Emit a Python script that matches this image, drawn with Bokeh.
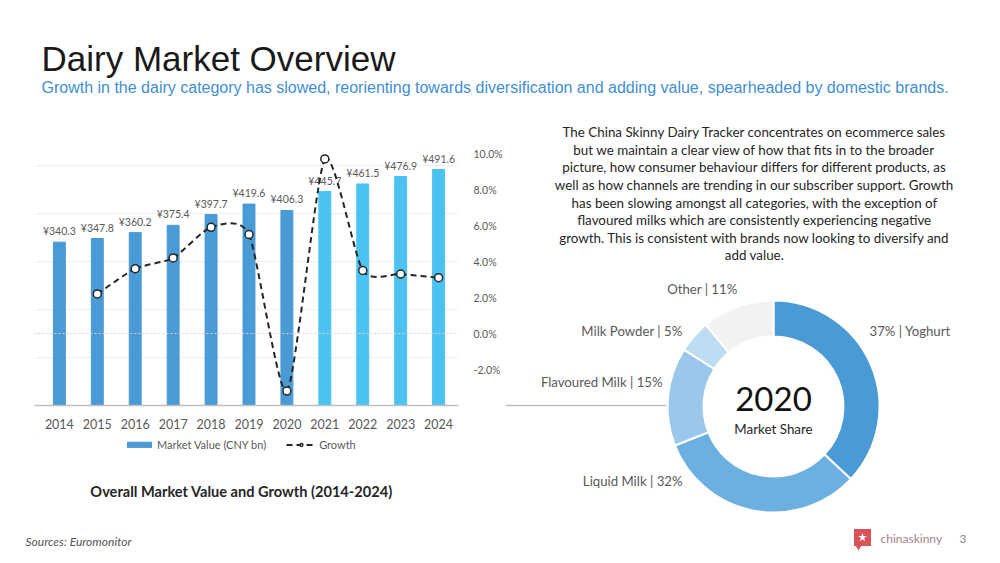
import numpy as np
from bokeh.plotting import figure
from bokeh.layouts import column, row
from bokeh.models import (Range1d, LinearAxis, FixedTicker, PrintfTickFormatter, Grid, Span,
                          Legend, LegendItem, ColumnDataSource)
from bokeh.core.properties import value
from bokeh.embed import file_html
from bokeh.resources import INLINE

# ---------------- data ----------------
years = [2014, 2015, 2016, 2017, 2018, 2019, 2020, 2021, 2022, 2023, 2024]
market_value = [340.3, 347.8, 360.2, 375.4, 397.7, 419.6, 406.3, 445.7, 461.5, 476.9, 491.6]
value_labels = ["¥340.3", "¥347.8", "¥360.2", "¥375.4", "¥397.7", "¥419.6",
                "¥406.3", "¥445.7", "¥461.5", "¥476.9", "¥491.6"]
growth_years = [2015, 2016, 2017, 2018, 2019, 2020, 2021, 2022, 2023, 2024]
growth = [2.2, 3.6, 4.2, 5.9, 5.5, -3.2, 9.7, 3.5, 3.3, 3.1]
pct_ticks = [-2, 0, 2, 4, 6, 8, 10]
value_grid = [100, 200, 300, 400, 500]
last_actual_year = 2020

share_categories = ["Yoghurt", "Liquid Milk", "Flavoured Milk", "Milk Powder", "Other"]
share_values = [37, 32, 15, 5, 11]
share_labels = ["37% | Yoghurt", "Liquid Milk | 32%", "Flavoured Milk | 15%",
                "Milk Powder | 5%", "Other | 11%"]
share_colors = ["#4a9ad5", "#6cafe1", "#9bc7ea", "#bcdcf2", "#f2f2f2"]

title_text = "Dairy Market Overview"
subtitle_text = ("Growth in the dairy category has slowed, reorienting towards diversification "
                 "and adding value, spearheaded by domestic brands.")
paragraph_lines = [
    "The China Skinny Dairy Tracker concentrates on ecommerce sales",
    "but we maintain a clear view of how that fits in to the broader",
    "picture, how consumer behaviour differs for different products, as",
    "well as how channels are trending in our subscriber support. Growth",
    "has been slowing amongst all categories, with the exception of",
    "flavoured milks which are consistently experiencing negative",
    "growth. This is consistent with brands now looking to diversify and",
    "add value.",
]
chart_caption = "Overall Market Value and Growth (2014-2024)"
sources_text = "Sources: Euromonitor"

F = value("Lato")
GRAY = "#595959"
DARK_BAR = "#4a9ad5"
LIGHT_BAR = "#4cc2f0"
LINE_COLOR = "#262626"
BASE_COLOR = "#bfbfbf"


def blank(w, h, x0, x1, y0, y1, **kw):
    opts = dict(min_border=0)
    opts.update(kw)
    p = figure(width=w, height=h, x_range=Range1d(x0, x1), y_range=Range1d(y0, y1),
               output_backend="svg", toolbar_location=None,
               x_axis_location=None, y_axis_location=None, **opts)
    p.outline_line_color = None
    p.xgrid.visible = False
    p.ygrid.visible = False
    p.background_fill_color = "white"
    p.border_fill_color = "white"
    return p

# ---------------- header (page pixels) ----------------
hdr = blank(1000, 113, 0, 1000, 113, 0)
hdr.text(x=[41], y=[58], text=[title_text], text_font=value("Liberation Sans"),
         text_font_size="35px", text_color="#1a1a1a", text_baseline="middle")
hdr.text(x=[41], y=[86.5], text=[subtitle_text], text_font=value("Liberation Sans"),
         text_font_size="16px", text_color="#3f8fd2", text_baseline="middle")

# ---------------- bar + growth chart ----------------
spacing = 38.1
x_start = 2014 - 25 / spacing
x_end = 2014 + 401 / spacing
bar = figure(width=505, height=320, x_range=Range1d(x_start, x_end), y_range=Range1d(0, 600),
             output_backend="svg", toolbar_location=None, y_axis_location=None,
             min_border_left=34, min_border_right=45, min_border_top=4, min_border_bottom=28)
bar.outline_line_color = None
bar.xgrid.visible = False
bar.ygrid.visible = False
bar.extra_y_ranges = {"pct": Range1d(-4, 12)}

bar.add_layout(Grid(dimension=1, ticker=FixedTicker(ticks=value_grid),
                    grid_line_color="#efefef", grid_line_width=1))
bar.add_layout(Span(location=0, dimension="width", y_range_name="pct",
                    line_color="#d4d4d4", line_dash="2 2", line_width=1))

colors = [DARK_BAR if y <= last_actual_year else LIGHT_BAR for y in years]
bsrc = ColumnDataSource(dict(x=years, top=market_value, color=colors, label=value_labels))
bar.vbar(x="x", top="top", width=12 / spacing, color="color", source=bsrc)
bar.text(x="x", y="top", text="label", source=bsrc, text_align="center", text_baseline="bottom",
         y_offset=-5, text_font=F, text_font_size="10.5px", text_color=GRAY)

# smoothed growth line (bezier segments through the data points)
gx = np.array(growth_years, float)
gy = np.array(growth, float)
n = len(gx)
k = 0.11
seg = dict(x0=[], y0=[], x1=[], y1=[], cx0=[], cy0=[], cx1=[], cy1=[])
for i in range(n - 1):
    a = i - 1 if i > 0 else i
    b = i + 2 if i + 2 < n else i + 1
    seg["x0"].append(gx[i]); seg["y0"].append(gy[i])
    seg["x1"].append(gx[i + 1]); seg["y1"].append(gy[i + 1])
    seg["cx0"].append(gx[i] + (gx[i + 1] - gx[a]) * k)
    seg["cy0"].append(gy[i] + (gy[i + 1] - gy[a]) * k)
    seg["cx1"].append(gx[i + 1] - (gx[b] - gx[i]) * k)
    seg["cy1"].append(gy[i + 1] - (gy[b] - gy[i]) * k)
bar.bezier(source=ColumnDataSource(seg), x0="x0", y0="y0", x1="x1", y1="y1",
           cx0="cx0", cy0="cy0", cx1="cx1", cy1="cy1", y_range_name="pct",
           line_color=LINE_COLOR, line_width=2, line_dash="6 4")
bar.scatter(x=growth_years, y=growth, y_range_name="pct", size=8, marker="circle",
            fill_color="white", line_color=LINE_COLOR, line_width=1.5)

xa = bar.xaxis[0]
xa.ticker = FixedTicker(ticks=years)
xa.axis_line_color = BASE_COLOR
xa.axis_line_width = 1.5
xa.major_tick_line_color = None
xa.minor_tick_line_color = None
xa.major_label_standoff = 7
xa.major_label_text_font = "Lato"
xa.major_label_text_font_size = "12.5px"
xa.major_label_text_color = GRAY

ra = LinearAxis(y_range_name="pct", ticker=FixedTicker(ticks=pct_ticks),
                formatter=PrintfTickFormatter(format="%.1f%%"))
ra.axis_line_color = None
ra.major_tick_line_color = None
ra.minor_tick_line_color = None
ra.major_label_standoff = 9
ra.major_label_text_font = "Lato"
ra.major_label_text_font_size = "10.5px"
ra.major_label_text_color = GRAY
bar.add_layout(ra, "right")

# base line continues to the right (a single long tick at the bottom of the growth scale)
ext = LinearAxis(y_range_name="pct", fixed_location=x_end,
                 ticker=FixedTicker(ticks=[bar.extra_y_ranges["pct"].start]))
ext.axis_line_color = None
ext.minor_tick_line_color = None
ext.major_tick_in = 0
ext.major_tick_out = 46
ext.major_tick_line_color = BASE_COLOR
ext.major_tick_line_width = 1.5
ext.major_label_text_alpha = 0
bar.add_layout(ext, "right")

# ---------------- caption + legend (frame aligned with the chart frame) ----------------
cap = blank(505, 85, 34, 460, 518, 433, min_border_left=34, min_border_right=45,
            min_border_top=0, min_border_bottom=0)
lg_bar = cap.vbar(x=[-1000], top=[0], width=1, color=DARK_BAR)
lg_line = cap.line(x=[-1000, -999], y=[0, 0], line_color=LINE_COLOR, line_width=2,
                   line_dash="6 4")
lg_dot = cap.scatter(x=[-1000], y=[0], size=8, marker="circle", fill_color="white",
                     line_color=LINE_COLOR, line_width=1.5)
leg = Legend(items=[LegendItem(label="Market Value (CNY bn)", renderers=[lg_bar]),
                    LegendItem(label="Growth", renderers=[lg_line, lg_dot])],
             orientation="horizontal", location=(90, 67), border_line_color=None,
             background_fill_alpha=0, label_text_font="Lato", label_text_font_size="11px",
             label_text_color=GRAY, glyph_width=30, glyph_height=7, spacing=20,
             padding=4, margin=0, label_standoff=3)
cap.add_layout(leg)
cap.text(x=[242], y=[491], text=[chart_caption], text_font=F, text_font_style="bold",
         text_font_size="14.6px", text_color="#262626", text_align="center",
         text_baseline="middle")

# ---------------- right panel ----------------
rp = blank(495, 405, 505, 1000, 518, 113)
for i, line in enumerate(paragraph_lines):
    rp.text(x=[754], y=[131.7 + i * 17.6], text=[line], text_font=F, text_font_size="13.4px",
            text_color="#262626", text_align="center", text_baseline="middle")

rp.segment(x0=[505], y0=[405], x1=[667], y1=[405], line_color=BASE_COLOR, line_width=1.5)

cx, cy, r_out, r_in = 773, 406, 106, 70
frac = np.array(share_values, float) / sum(share_values)
cum = np.concatenate([[0], np.cumsum(frac)])
starts = np.pi / 2 - 2 * np.pi * cum[:-1]
ends = np.pi / 2 - 2 * np.pi * cum[1:]
rp.annular_wedge(x=cx, y=cy, inner_radius=r_in, outer_radius=r_out,
                 start_angle=starts, end_angle=ends, direction="clock",
                 fill_color=share_colors, line_color="white", line_width=2)

label_pos = [(869, 330, "left"), (682, 480, "right"), (662, 381, "right"),
             (682, 330, "right"), (737, 288, "right")]
for (lx, ly, al), txt in zip(label_pos, share_labels):
    rp.text(x=[lx], y=[ly], text=[txt], text_font=F, text_font_size="13.2px",
            text_color=GRAY, text_align=al, text_baseline="middle")

rp.text(x=[cx], y=[398], text=["2020"], text_font=F, text_font_size="33px",
        text_color="#111111", text_align="center", text_baseline="middle")
rp.text(x=[cx], y=[428], text=["Market Share"], text_font=F, text_font_size="13.4px",
        text_color="#262626", text_align="center", text_baseline="middle")

# ---------------- footer ----------------
ftr = blank(1000, 44, 0, 1000, 562, 518)
ftr.text(x=[25], y=[541], text=[sources_text], text_font=F, text_font_style="italic",
         text_font_size="12px", text_color="#555555", text_baseline="middle")
ftr.scatter(x=[862], y=[537], marker="square", size=17, fill_color="#d9535b", line_color=None)
ftr.scatter(x=[858], y=[546], marker="inverted_triangle", size=7, fill_color="#d9535b",
            line_color=None)
ftr.scatter(x=[862], y=[537], marker="star", size=9, fill_color="white", line_color=None)
ftr.text(x=[880], y=[538], text=["chinaskinny"], text_font=F, text_font_size="12px",
         text_color="#a9808b", text_baseline="middle")
ftr.text(x=[959], y=[538], text=["3"], text_font=F, text_font_size="12px",
         text_color="#888888", text_baseline="middle")

layout = column(hdr, row(column(bar, cap, spacing=0), rp, spacing=0), ftr, spacing=0)
open("out.html", "w").write(file_html(layout, INLINE))
